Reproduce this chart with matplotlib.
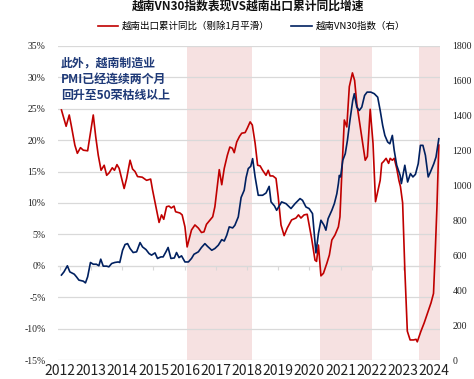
import matplotlib
matplotlib.use('Agg')
import matplotlib.pyplot as plt
import numpy as np

plt.rcParams['font.family'] = ['Noto Sans CJK SC', 'DejaVu Sans']

# 越南出口累计同比（剔除1月平滑），%，按小数年份
export_t = [2012.05, 2012.2, 2012.3, 2012.37, 2012.48, 2012.56, 2012.66, 2012.75, 2012.89, 2012.96,
            2013.07, 2013.15, 2013.23, 2013.32, 2013.42, 2013.5, 2013.58, 2013.68, 2013.75, 2013.83, 2013.9,
            2014.06, 2014.14, 2014.25, 2014.33, 2014.41, 2014.49, 2014.64, 2014.78, 2014.91, 2014.97,
            2015.1, 2015.18, 2015.26, 2015.33, 2015.42, 2015.5, 2015.57, 2015.66, 2015.71, 2015.85, 2015.92,
            2016.01, 2016.08, 2016.22, 2016.33, 2016.44, 2016.54, 2016.62, 2016.7, 2016.8, 2016.9, 2016.97,
            2017.02, 2017.11, 2017.19, 2017.27, 2017.37, 2017.45, 2017.53, 2017.59, 2017.67, 2017.76, 2017.83, 2017.94,
            2018.01, 2018.1, 2018.17, 2018.26, 2018.34, 2018.42, 2018.5, 2018.61, 2018.68, 2018.74, 2018.83, 2018.93,
            2019.0, 2019.09, 2019.19, 2019.29, 2019.43, 2019.57, 2019.65, 2019.73, 2019.83, 2019.93,
            2020.07, 2020.18, 2020.23, 2020.29, 2020.37, 2020.45, 2020.56, 2020.64, 2020.72, 2020.82, 2020.93, 2020.98,
            2021.03, 2021.12, 2021.2, 2021.28, 2021.38, 2021.45, 2021.52, 2021.63, 2021.71, 2021.79, 2021.86, 2021.95,
            2022.04, 2022.12, 2022.27, 2022.32, 2022.38, 2022.46, 2022.54, 2022.59, 2022.66, 2022.72, 2022.8, 2022.87,
            2022.92, 2022.99, 2023.06, 2023.14, 2023.23, 2023.34, 2023.42, 2023.46, 2023.57, 2023.68, 2023.79, 2023.9,
            2023.98, 2024.03, 2024.09, 2024.15]
export_yoy = [24.8, 22.2, 24.0, 22.2, 19.2, 17.9, 18.8, 18.4, 18.3, 20.5,
              24.0, 20.5, 17.6, 15.2, 16.0, 14.4, 14.8, 15.6, 15.2, 16.1, 15.5,
              12.3, 13.9, 16.8, 15.4, 15.0, 14.2, 14.1, 13.6, 13.8, 12.1,
              8.9, 6.9, 8.1, 7.4, 9.4, 9.5, 9.2, 9.5, 8.6, 8.4, 8.1,
              6.2, 3.0, 5.7, 6.5, 6.0, 5.3, 5.4, 6.6, 7.2, 7.8, 9.4,
              11.5, 15.3, 12.9, 15.5, 17.6, 18.9, 18.7, 18.0, 19.7, 20.6, 21.1, 21.2,
              21.9, 22.9, 22.4, 19.5, 16.0, 15.9, 15.2, 14.4, 15.2, 14.3, 14.3, 13.9,
              11.0, 6.5, 4.8, 6.0, 7.3, 7.6, 8.1, 7.6, 8.1, 8.2,
              4.4, 0.9, 0.7, 3.3, -1.6, -1.2, 0.4, 1.7, 4.1, 4.9, 6.2, 7.8,
              13.6, 23.2, 22.1, 28.5, 30.7, 29.5, 25.8, 22.1, 19.5, 16.8, 17.4, 24.9,
              19.5, 10.2, 13.6, 16.3, 16.6, 17.1, 16.3, 17.1, 16.8, 17.1, 15.5, 13.6,
              12.6, 10.0, -0.6, -10.4, -11.8, -11.8, -11.7, -12.1, -10.5, -9.1, -7.5, -5.9,
              -4.4, 1.5, 9.4, 19.2]

# 越南VN30指数（右轴）
vn30_t = [2012.05, 2012.13, 2012.24, 2012.32, 2012.46, 2012.53, 2012.61, 2012.75, 2012.82, 2012.89, 2012.98,
          2013.07, 2013.17, 2013.25, 2013.31, 2013.39, 2013.5, 2013.57, 2013.66, 2013.76, 2013.87, 2013.92,
          2014.01, 2014.09, 2014.17, 2014.25, 2014.35, 2014.46, 2014.57, 2014.65, 2014.76, 2014.86, 2014.94,
          2015.05, 2015.13, 2015.24, 2015.31, 2015.4, 2015.47, 2015.56, 2015.67, 2015.74, 2015.82, 2015.9,
          2016.01, 2016.12, 2016.22, 2016.3, 2016.44, 2016.54, 2016.65, 2016.73, 2016.87, 2016.97,
          2017.08, 2017.19, 2017.27, 2017.35, 2017.43, 2017.54, 2017.61, 2017.72, 2017.81, 2017.91, 2017.97,
          2018.04, 2018.12, 2018.18, 2018.26, 2018.36, 2018.5, 2018.61, 2018.71, 2018.77, 2018.88, 2018.95,
          2019.11, 2019.25, 2019.41, 2019.54, 2019.7, 2019.78, 2019.89, 2019.99,
          2020.1, 2020.18, 2020.21, 2020.29, 2020.37, 2020.47, 2020.53, 2020.6, 2020.72, 2020.8, 2020.88, 2020.93, 2020.96,
          2021.0, 2021.07, 2021.15, 2021.22, 2021.3, 2021.39, 2021.44, 2021.52, 2021.6, 2021.68, 2021.77, 2021.85, 2021.97,
          2022.08, 2022.19, 2022.27, 2022.35, 2022.42, 2022.51, 2022.58, 2022.66, 2022.72, 2022.8, 2022.91, 2022.95,
          2023.06, 2023.15, 2023.24, 2023.32, 2023.4, 2023.49, 2023.56, 2023.64, 2023.72, 2023.81, 2023.88, 2023.99,
          2024.06, 2024.15]
vn30 = [487, 505, 540, 505, 492, 477, 458, 452, 442, 477, 559,
        549, 549, 540, 578, 538, 538, 534, 553, 559, 562, 559,
        629, 662, 667, 639, 616, 620, 673, 648, 633, 610, 601,
        614, 582, 591, 591, 620, 645, 582, 585, 616, 587, 597,
        562, 562, 582, 606, 620, 645, 667, 652, 629, 639,
        658, 690, 682, 715, 763, 757, 772, 820, 931, 973, 1045,
        1097, 1110, 1154, 1049, 944, 944, 957, 995, 906, 883, 858,
        906, 896, 868, 896, 925, 915, 877, 868,
        839, 677, 614, 725, 801, 772, 744, 810, 858, 896, 953, 1011, 1058,
        1049, 1144, 1182, 1259, 1373, 1487, 1526, 1449, 1430, 1449, 1516, 1535, 1535,
        1526, 1506, 1430, 1344, 1287, 1249, 1239, 1287, 1201, 1116, 1058, 1011,
        1116, 1020, 1068, 1049, 1064, 1125, 1230, 1230, 1173, 1049, 1077, 1125,
        1163, 1268]

shade_spans = [(2016.07, 2018.15), (2020.35, 2022.0), (2023.5, 2024.25)]
years = list(range(2012, 2025))
left_ticks = [35, 30, 25, 20, 15, 10, 5, 0, -5, -10, -15]
right_ticks = [0, 200, 400, 600, 800, 1000, 1200, 1400, 1600, 1800]

red = '#C00000'
navy = '#002060'
serif = 'Liberation Serif'

fig = plt.figure(figsize=(4.74, 3.79), dpi=100)
ax = fig.add_axes([0.1224, 0.050, 0.806, 0.829])
ax2 = ax.twinx()

for a, b in shade_spans:
    ax.axvspan(a, b, color='#F6E1E1', lw=0, zorder=0)

ax.plot(export_t, export_yoy, color=red, lw=1.2, zorder=3, label='越南出口累计同比（剔除1月平滑）')
ax2.plot(vn30_t, vn30, color=navy, lw=1.2, zorder=3, label='越南VN30指数（右）')

ax.set_xlim(2011.94, 2024.19)
ax.set_ylim(-15, 35)
ax2.set_ylim(0, 1800)
ax.set_yticks(left_ticks)
ax.set_yticklabels([f'{v}%' for v in left_ticks], fontfamily=serif, fontsize=7)
ax2.set_yticks(right_ticks)
ax2.set_yticklabels([str(v) for v in right_ticks], fontfamily=serif, fontsize=7)
ax.set_xticks(years)
ax.set_xticklabels([str(y) for y in years], fontfamily=serif, fontsize=7.2)

ax.grid(axis='y', color='#D9D9D9', lw=0.9)
ax.set_axisbelow(True)
for a in (ax, ax2):
    for s in ('left', 'right', 'top'):
        a.spines[s].set_visible(False)
ax2.spines['bottom'].set_visible(False)
ax.spines['bottom'].set_position(('data', 0))
ax.spines['bottom'].set_color('#D9D9D9')
ax.tick_params(axis='x', length=3, color='#D9D9D9', pad=68, labelcolor='#222222')
ax.tick_params(axis='y', length=0, pad=9, labelcolor='#222222')
ax2.tick_params(axis='y', length=0, pad=9, labelcolor='#222222')

ax.text(0.008, 0.965, '此外，越南制造业\nPMI已经连续两个月\n回升至50荣枯线以上', transform=ax.transAxes,
        ha='left', va='top', fontsize=8.6, fontweight='bold', color='#1F3A78', linespacing=1.3)

h1, l1 = ax.get_legend_handles_labels()
h2, l2 = ax2.get_legend_handles_labels()
fig.legend(h1 + h2, l1 + l2, loc='center', bbox_to_anchor=(0.53, 0.931), ncol=2, frameon=False,
           fontsize=6.8, handlelength=2.2, columnspacing=2.2, handletextpad=0.4)

fig.text(0.523, 0.985, '越南VN30指数表现VS越南出口累计同比增速', ha='center', va='center',
         fontsize=8.5, fontweight='bold', color='#111111')

fig.savefig('out.png', dpi=100)
